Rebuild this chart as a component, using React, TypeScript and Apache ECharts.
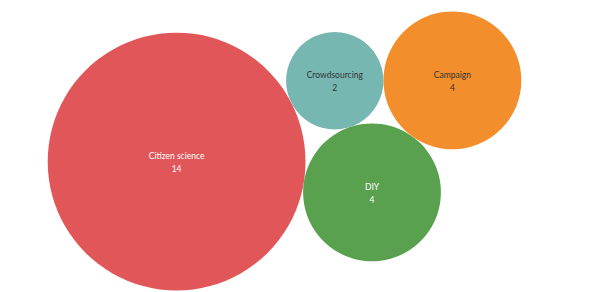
import React, { useEffect, useRef } from "react";
import * as echarts from "echarts";

// Data (placement order of the packed bubbles)
const categories: string[] = ["Citizen science", "DIY", "Crowdsourcing", "Campaign"];
const counts: number[] = [14, 4, 2, 4];
const colors: string[] = ["#E15759", "#59A14F", "#76B7B2", "#F28E2B"];
const labelColors: string[] = ["#ffffff", "#ffffff", "#333333", "#333333"];

const W = 600;
const H = 292;

type Circle = { x: number; y: number; r: number };

// place circle of radius r tangent to circles a and b; two solutions, pick by side
function tangentTo(a: Circle, b: Circle, r: number, side: number): Circle {
  const dx = b.x - a.x;
  const dy = b.y - a.y;
  const d = Math.hypot(dx, dy);
  const da = a.r + r;
  const db = b.r + r;
  const cosA = (d * d + da * da - db * db) / (2 * d * da);
  const ang = Math.atan2(dy, dx) + side * Math.acos(Math.max(-1, Math.min(1, cosA)));
  return { x: a.x + da * Math.cos(ang), y: a.y + da * Math.sin(ang), r };
}

function overlaps(c: Circle, placed: Circle[]): boolean {
  return placed.some((p) => Math.hypot(p.x - c.x, p.y - c.y) < p.r + c.r - 1e-6);
}

function packLayout(values: number[]): Circle[] {
  const rad = values.map((v) => Math.sqrt(v));
  const startAngle = (8.94 * Math.PI) / 180;
  const out: Circle[] = [];
  out.push({ x: 0, y: 0, r: rad[0] });
  if (rad.length > 1) {
    const d = rad[0] + rad[1];
    out.push({ x: d * Math.cos(startAngle), y: d * Math.sin(startAngle), r: rad[1] });
  }
  for (let i = 2; i < rad.length; i++) {
    // tangent to the previous two circles, first free side
    const cands = [-1, 1].map((s) => tangentTo(out[i - 2], out[i - 1], rad[i], s));
    const free = cands.find((c) => !overlaps(c, out)) || cands[0];
    out.push(free);
  }
  // fit: scale so that the bounding height fits, then center
  let minX = Infinity, maxX = -Infinity, minY = Infinity, maxY = -Infinity;
  out.forEach((c) => {
    minX = Math.min(minX, c.x - c.r);
    maxX = Math.max(maxX, c.x + c.r);
    minY = Math.min(minY, c.y - c.r);
    maxY = Math.max(maxY, c.y + c.r);
  });
  const k = (H - 13) / (maxY - minY);
  const cx = 284.5;
  const cy = H / 2 + 5;
  const mx = (minX + maxX) / 2;
  const my = (minY + maxY) / 2;
  return out.map((c) => ({ x: cx + (c.x - mx) * k, y: cy + (c.y - my) * k, r: c.r * k }));
}

export default function App() {
  const ref = useRef<HTMLDivElement>(null);
  useEffect(() => {
    if (!ref.current) return;
    const chart = echarts.init(ref.current, undefined, { renderer: "svg" });
    const layout = packLayout(counts);
    const data = categories.map((name, i) => ({
      name,
      value: [layout[i].x, layout[i].y, counts[i]],
      symbolSize: layout[i].r * 2,
      itemStyle: { color: colors[i], opacity: 1 },
      label: { color: labelColors[i] },
    }));
    chart.setOption({
      animation: false,
      backgroundColor: "#ffffff",
      grid: { left: 0, right: 0, top: 0, bottom: 0 },
      xAxis: { type: "value", min: 0, max: W, show: false },
      yAxis: { type: "value", min: 0, max: H, inverse: true, show: false },
      series: [
        {
          type: "scatter",
          symbol: "circle",
          data,
          emphasis: { disabled: true },
          label: {
            show: true,
            position: "inside",
            fontFamily: "Lato",
            fontSize: 8.5,
            lineHeight: 13,
            offset: [0, 1],
            formatter: (p: any) => `${p.name}\n${p.value[2]}`,
          },
        },
      ],
    });
    return () => chart.dispose();
  }, []);
  return (
    <div
      ref={ref}
      style={{ position: "fixed", left: 0, top: 0, width: W, height: H }}
    />
  );
}
